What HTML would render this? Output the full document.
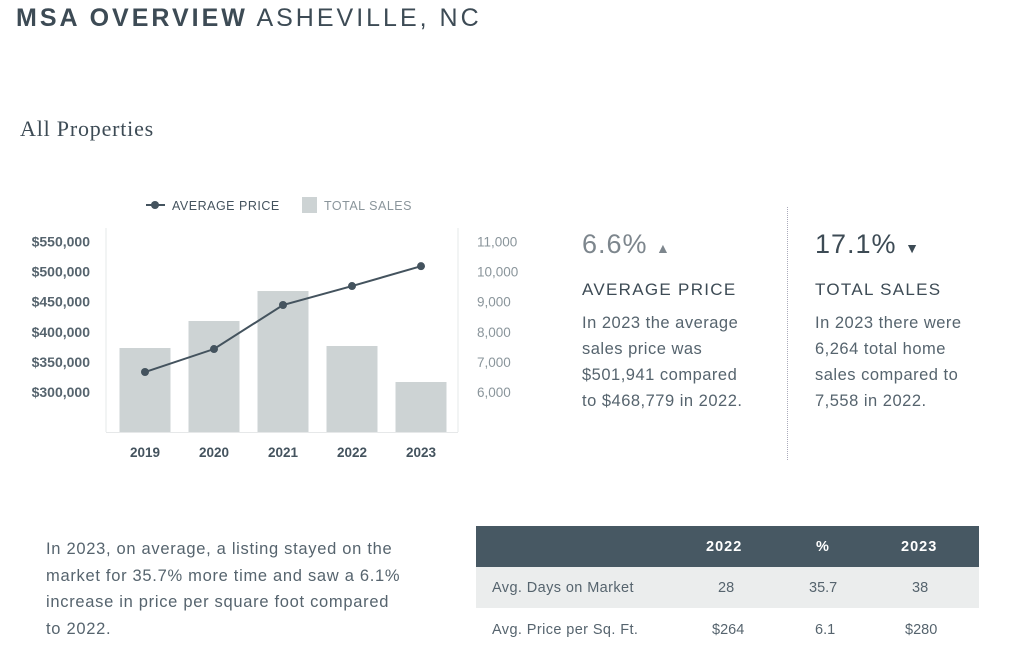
<!DOCTYPE html>
<html><head><meta charset="utf-8"><style>
body{margin:0;width:1024px;height:669px;background:#fff;font-family:"Liberation Sans",sans-serif;position:relative;overflow:hidden;color:#44535e}
.a{position:absolute;white-space:nowrap}
</style></head><body>
<div class="a" style="left:16px;top:4px;font-size:25px;letter-spacing:3px;color:#3d4b55"><b>MSA OVERVIEW</b> <span style="font-weight:normal">ASHEVILLE, NC</span></div>
<div class="a" style="left:20px;top:116px;font-family:'Liberation Serif',serif;font-size:22px;letter-spacing:0.8px;color:#3d4b55">All Properties</div>

<svg class="a" style="left:0;top:0" width="520" height="470" id="chart"></svg>

<div class="a" style="left:582px;top:229px;font-size:27px;letter-spacing:1px;color:#7d868d">6.6% <span style="font-size:14px">▲</span></div>
<div class="a" style="left:582px;top:280px;font-size:17px;letter-spacing:1.3px;color:#3d4b55">AVERAGE PRICE</div>
<div class="a" style="left:582px;top:310px;font-size:16.5px;line-height:26px;letter-spacing:0.5px;color:#56646e">In 2023 the average<br>sales price was<br>$501,941 compared<br>to $468,779 in 2022.</div>
<div class="a" style="left:787px;top:207px;height:253px;border-left:1px dotted #aab"></div>
<div class="a" style="left:815px;top:229px;font-size:27px;letter-spacing:1px;color:#3d4b55">17.1% <span style="font-size:14px">▼</span></div>
<div class="a" style="left:815px;top:280px;font-size:17px;letter-spacing:1.3px;color:#3d4b55">TOTAL SALES</div>
<div class="a" style="left:815px;top:310px;font-size:16.5px;line-height:26px;letter-spacing:0.5px;color:#56646e">In 2023 there were<br>6,264 total home<br>sales compared to<br>7,558 in 2022.</div>

<div class="a" style="left:46px;top:536px;font-size:16.5px;line-height:26.5px;letter-spacing:0.7px;color:#56646e">In 2023, on average, a listing stayed on the<br>market for 35.7% more time and saw a 6.1%<br>increase in price per square foot compared<br>to 2022.</div>

<div class="a" style="left:476px;top:526px;width:503px;font-size:14.5px">
 <div style="height:41px;background:#475863;color:#fff;font-weight:bold;position:relative;letter-spacing:1px">
  <span class="a" style="left:230px;top:13px">2022</span><span class="a" style="left:340px;top:13px">%</span><span class="a" style="left:425px;top:13px">2023</span></div>
 <div style="height:41px;background:#ebeded;color:#56646e;position:relative">
  <span class="a" style="left:16px;top:13px;letter-spacing:0.4px">Avg. Days on Market</span><span class="a" style="left:242px;top:13px">28</span><span class="a" style="left:333px;top:13px">35.7</span><span class="a" style="left:436px;top:13px">38</span></div>
 <div style="height:42px;color:#56646e;position:relative">
  <span class="a" style="left:16px;top:14px;letter-spacing:0.4px">Avg. Price per Sq. Ft.</span><span class="a" style="left:236px;top:14px">$264</span><span class="a" style="left:339px;top:14px">6.1</span><span class="a" style="left:429px;top:14px">$280</span></div>
</div>

<script>
const years=["2019","2020","2021","2022","2023"];
const prices=[333200,371400,444500,476000,509000];
const sales=[7462,8359,9355,7528,6332];
const priceTicks=[550000,500000,450000,400000,350000,300000];
const salesTicks=[11000,10000,9000,8000,7000,6000];
const NS="http://www.w3.org/2000/svg";
const svg=document.getElementById('chart');
const yP=v=>392-(v-300000)/50000*30.1;
const yS=v=>392-(v-6000)/1000*30.1;
const xC=i=>145+i*69;
const base=432;
function mk(t,a,txt){const e=document.createElementNS(NS,t);for(const k in a)e.setAttribute(k,a[k]);if(txt!==undefined)e.textContent=txt;svg.appendChild(e);return e;}
let e;
e=mk('line',{x1:106,y1:228,x2:106,y2:432,stroke:'#e6e8e9'});


e=mk('line',{x1:458,y1:228,x2:458,y2:432,stroke:'#e6e8e9'});


e=mk('line',{x1:106,y1:432.5,x2:458,y2:432.5,stroke:'#e6e8e9'});


sales.forEach((v,i)=>{
 e=mk('rect',{x:xC(i)-25.5,y:yS(v),width:51,height:base-yS(v),fill:'#cdd3d4'});
 
 
});
priceTicks.forEach(v=>{
 e=mk('text',{x:90,y:yP(v)+5,'text-anchor':'end','font-size':14,'font-weight':'bold',fill:'#56646e'},'$'+v.toLocaleString('en-US'));
 
 
});
salesTicks.forEach(v=>{
 e=mk('text',{x:477,y:yS(v)+5,'font-size':13.5,fill:'#8a959b'},v.toLocaleString('en-US'));
 
 
});
years.forEach((y,i)=>{
 e=mk('text',{x:xC(i),y:457,'text-anchor':'middle','font-size':13.5,'font-weight':'bold',fill:'#44535e'},y);
 
 
});
e=mk('polyline',{points:prices.map((v,i)=>xC(i)+','+yP(v)).join(' '),fill:'none',stroke:'#44535e','stroke-width':2});


prices.forEach((v,i)=>{
 e=mk('circle',{cx:xC(i),cy:yP(v),r:4,fill:'#44535e'});
 
 
});
e=mk('line',{x1:146,y1:205,x2:165,y2:205,stroke:'#44535e','stroke-width':2});


e=mk('circle',{cx:155,cy:205,r:4,fill:'#44535e'});


e=mk('text',{x:172,y:210,'font-size':12.5,'letter-spacing':0.5,fill:'#44535e'},'AVERAGE PRICE');


e=mk('rect',{x:302,y:197,width:15,height:16,fill:'#cdd3d4'});


e=mk('text',{x:324,y:210,'font-size':12.5,'letter-spacing':0.5,fill:'#8a959b'},'TOTAL SALES');


</script>
</body></html>
